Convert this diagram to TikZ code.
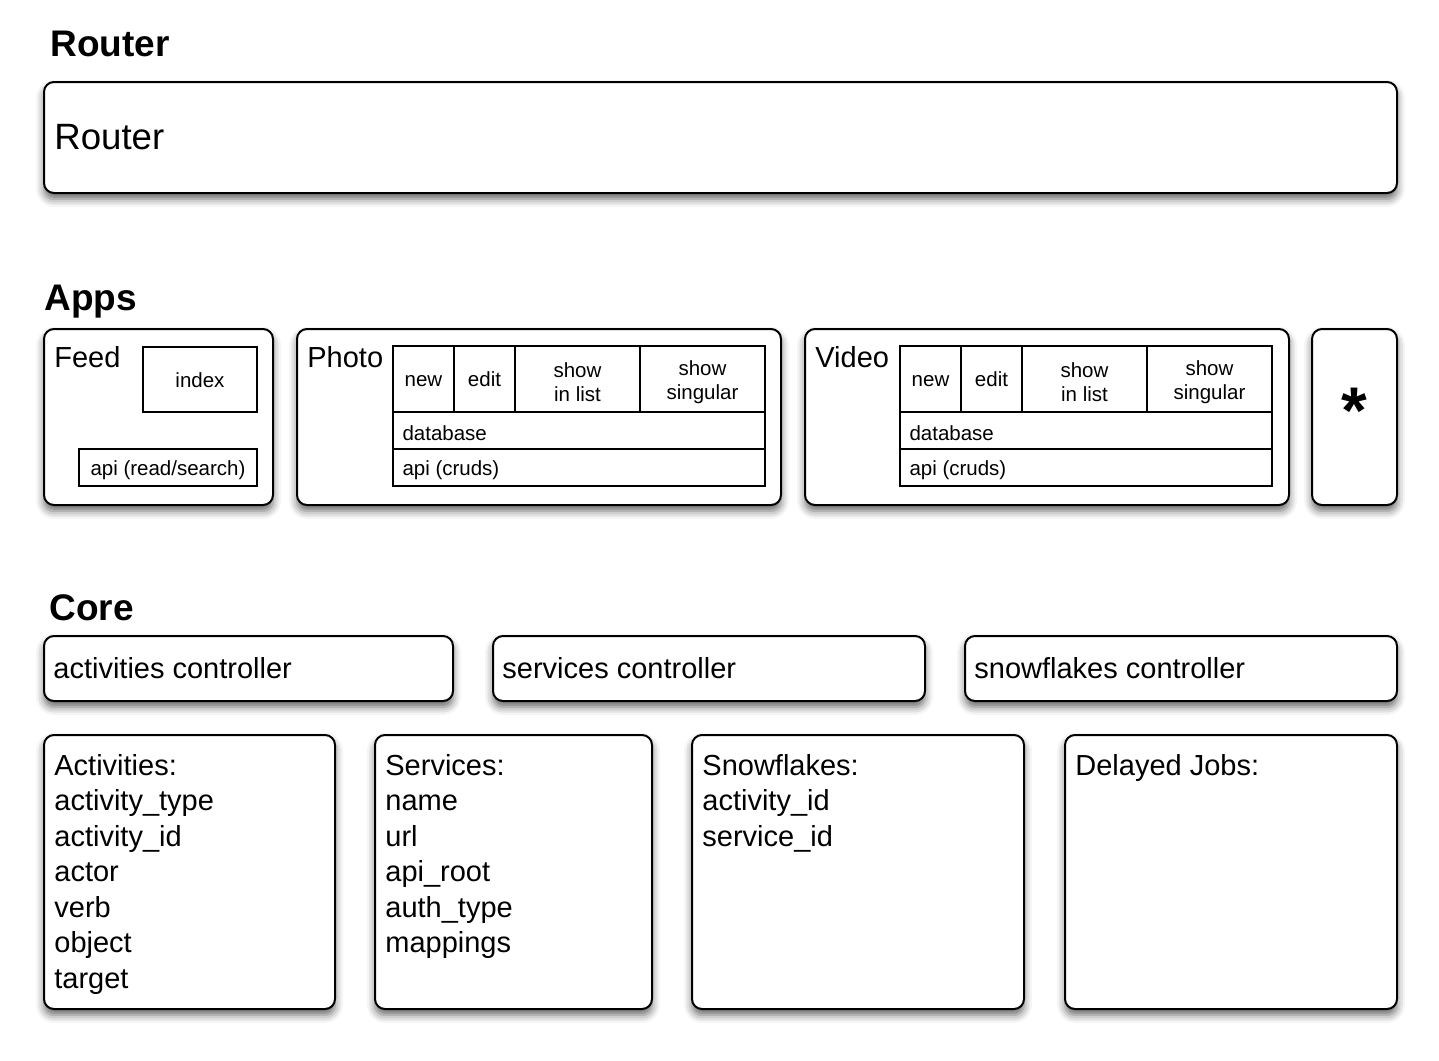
\documentclass[tikz,border=0pt]{standalone}
\usepackage{fontspec}
\setmainfont{Liberation Sans}
\usetikzlibrary{fit,positioning,shadows.blur}

\newcommand{\cellfont}{\fontsize{10.25}{12}\selectfont}
\newcommand{\boxfont}{\fontsize{14.5}{17.75}\selectfont}

\tikzset{
  panel/.style={draw, line width=1pt, rounded corners=5pt, fill=white, inner sep=0pt,
    blur shadow={shadow xshift=0pt, shadow yshift=-3pt, shadow blur radius=4pt, shadow opacity=60}},
  cell/.style={draw, line width=0.9pt, inner sep=0pt},
  cellname/.style={font=\cellfont, align=center, inner sep=0pt, yshift=-1.5pt},
  celltext/.style={font=\cellfont, anchor=west, inner sep=0pt, yshift=-1.5pt},
  heading/.style={font=\fontsize{18.5}{22}\selectfont\bfseries, anchor=base west, inner sep=0pt},
  boxtext/.style={font=\boxfont, anchor=base west, inner sep=0pt},
}

\begin{document}
\begin{tikzpicture}[x=0.5pt, y=-0.5pt]
\useasboundingbox (0,0) rectangle (1439,1060);

% Router
\node[heading] (routerhead) at (50,56) {Router};
\node[panel, fit={(44,82) (1397,193)}] (router) {};
\node[font=\fontsize{18.3}{22}\selectfont, anchor=west, inner sep=0pt] (routertext) at ([xshift=5.5pt]router.west) {Router};

% Apps
\node[heading] (appshead) at (44,310) {Apps};

% Feed
\node[panel, fit={(44,329) (273,505)}] (feed) {};
\node[boxtext] (feedtext) at (54,367) {Feed};
\node[cell, fit={(143,347) (257,412)}, label={[cellname]center:{index\strut}}] (feedindex) {};
\node[cell, fit={(79,449) (257,486)}, label={[cellname]center:{api (read/search)\strut}}] (feedapi) {};

% Photo
\node[panel, fit={(297,329) (781,505)}] (photo) {};
\node[boxtext] (phototext) at (307,367) {Photo};
\node[cell, fit={(393,346) (454,412)}, label={[cellname]center:{new\strut}}] (photonew) {};
\node[cell, fit={(454,346) (515,412)}, label={[cellname]center:{edit\strut}}] (photoedit) {};
\node[cell, fit={(515,346) (640,412)}, label={[cellname]center:{show\\in list}}] (photolist) {};
\node[cell, fit={(640,346) (765,412)}, label={[cellname]center:{show\\singular}}] (photosingle) {};
\node[cell, fit={(393,412) (765,449)}] (photodb) {};
\node[cell, fit={(393,449) (765,486)}] (photoapi) {};
\node[celltext] (photodbtext) at ([xshift=5pt]photodb.west) {database};
\node[celltext] (photoapitext) at ([xshift=5pt]photoapi.west) {api (cruds)};

% Video
\node[panel, fit={(805,329) (1289,505)}] (video) {};
\node[boxtext] (videotext) at (815,367) {Video};
\node[cell, fit={(900,346) (961,412)}, label={[cellname]center:{new\strut}}] (videonew) {};
\node[cell, fit={(961,346) (1022,412)}, label={[cellname]center:{edit\strut}}] (videoedit) {};
\node[cell, fit={(1022,346) (1147,412)}, label={[cellname]center:{show\\in list}}] (videolist) {};
\node[cell, fit={(1147,346) (1272,412)}, label={[cellname]center:{show\\singular}}] (videosingle) {};
\node[cell, fit={(900,412) (1272,449)}] (videodb) {};
\node[cell, fit={(900,449) (1272,486)}] (videoapi) {};
\node[celltext] (videodbtext) at ([xshift=5pt]videodb.west) {database};
\node[celltext] (videoapitext) at ([xshift=5pt]videoapi.west) {api (cruds)};

% Any other app
\node[panel, fit={(1312,329) (1397,505)}] (other) {};
\node[font=\fontsize{33}{33}\selectfont\bfseries, anchor=base, inner sep=0pt] (othertext) at (1354,433) {*};

% Core
\node[heading] (corehead) at (49,620) {Core};
\node[panel, fit={(44,636) (453,701)}] (actctrl) {};
\node[boxtext, anchor=west] (actctrltext) at ([xshift=5pt]actctrl.west) {activities controller};
\node[panel, fit={(493,636) (925,701)}] (servctrl) {};
\node[boxtext, anchor=west] (servctrltext) at ([xshift=5pt]servctrl.west) {services controller};
\node[panel, fit={(965,636) (1397,701)}] (snowctrl) {};
\node[boxtext, anchor=west] (snowctrltext) at ([xshift=5pt]snowctrl.west) {snowflakes controller};

% Tables
\node[panel, fit={(44,735) (335,1009)}] (activities) {};
\foreach \txt [count=\i from 0] in {Activities:, activity\_type, activity\_id, actor, verb, object, target}
  \node[boxtext] (act\i) at (54,775+35.5*\i) {\txt};

\node[panel, fit={(375,735) (652,1009)}] (services) {};
\foreach \txt [count=\i from 0] in {Services:, name, url, api\_root, auth\_type, mappings}
  \node[boxtext] (serv\i) at (385,775+35.5*\i) {\txt};

\node[panel, fit={(692,735) (1024,1009)}] (snowflakes) {};
\foreach \txt [count=\i from 0] in {Snowflakes:, activity\_id, service\_id}
  \node[boxtext] (snow\i) at (702,775+35.5*\i) {\txt};

\node[panel, fit={(1065,735) (1397,1009)}] (jobs) {};
\node[boxtext] (jobs0) at (1075,775) {Delayed Jobs:};

\end{tikzpicture}
\end{document}
